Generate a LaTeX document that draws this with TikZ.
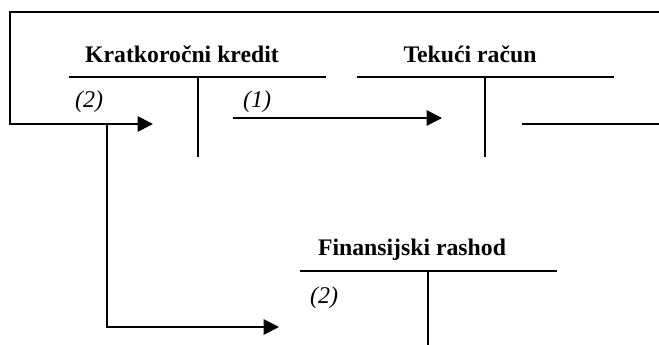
\documentclass[tikz,border=0pt]{standalone}
\usepackage{fontspec}
\setmainfont{Liberation Serif}
\usetikzlibrary{arrows.meta}

\tikzset{
  tline/.style={line width=1.3pt},
  flow/.style={line width=1.3pt,-{Triangle[length=11.5pt,width=11.5pt]}},
  title/.style={anchor=base,inner sep=0pt,font=\fontsize{17.8}{21}\selectfont\bfseries},
  entry/.style={anchor=base,inner sep=0pt,font=\fontsize{18}{21}\selectfont\itshape}
}

\begin{document}
\begin{tikzpicture}[x=0.75pt,y=0.75pt,yscale=-1,xscale=1]
\useasboundingbox (0,0) rectangle (659,345);

%Account: Kratkorocni kredit
\draw [tline] (69,77) -- (326,77) ;
\draw [tline] (198,77) -- (198,157) ;
%Account: Tekuci racun
\draw [tline] (357,77) -- (614,77) ;
\draw [tline] (485,77) -- (485,157) ;
%Account: Finansijski rashod
\draw [tline] (300,271) -- (557,271) ;
\draw [tline] (428,271) -- (428,345) ;

% Text Node
\node [title] (kredit) at (182,63) {Kratkoročni kredit};
% Text Node
\node [title] (tekuci) at (470,63) {Tekući račun};
% Text Node
\node [title] (rashod) at (412,255) {Finansijski rashod};
% Text Node
\node [entry] (kreditTwo) at (89,108) {(2)};
% Text Node
\node [entry] (tekuciOne) at (257,108) {(1)};
% Text Node
\node [entry] (rashodTwo) at (324,303) {(2)};

%Connector end points
\coordinate (inTop) at (659,12);
\coordinate (cornerTL) at (10,12);
\coordinate (cornerL) at (10,124);
\coordinate (kreditIn) at (153,124);
\coordinate (split) at (107,124);
\coordinate (cornerBL) at (107,327);
\coordinate (rashodIn) at (279,327);
\coordinate (kreditOut) at (233,118);
\coordinate (tekuciIn) at (442,118);
\coordinate (tekuciOut) at (522,124);
\coordinate (outRight) at (659,124);

%Curve Lines
\draw [flow] (inTop) -- (cornerTL) -- (cornerL) -- (kreditIn) ;
\draw [flow] (split) -- (cornerBL) -- (rashodIn) ;
%Straight Lines
\draw [flow] (kreditOut) -- (tekuciIn) ;
\draw [tline] (tekuciOut) -- (outRight) ;

\end{tikzpicture}
\end{document}
